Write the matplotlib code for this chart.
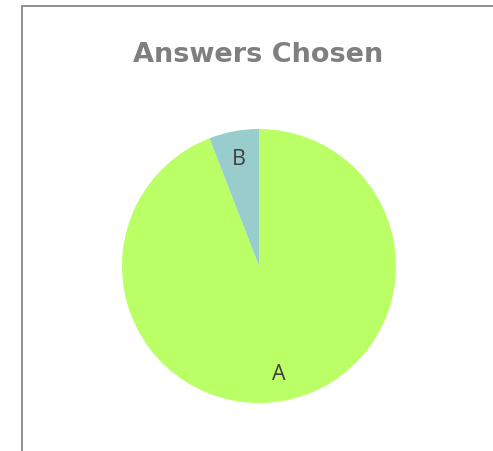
import matplotlib
matplotlib.use("Agg")
import matplotlib.pyplot as plt
from matplotlib.patches import Rectangle

# datos del grafico
respuestas = ["A", "B"]
conteos = [16, 1]
colores = ["#BBFF66", "#99CCCC"]
titulo = "Answers Chosen"

W, H = 493, 452
fig = plt.figure(figsize=(W / 100, H / 100), dpi=100)

# marco del grafico (cortado a la derecha y abajo)
fig.patches.append(Rectangle((22 / W, -0.1), 1.2, (H - 7) / H + 0.1,
                             transform=fig.transFigure, fill=False,
                             edgecolor="#868686", linewidth=1.3))

fig.text(258 / W, 1 - 62 / H, titulo, ha="center", va="baseline",
         fontsize=19.5, fontweight="bold", color="#7F7F7F", family="DejaVu Sans")

# ejes de la tarta
cx, cy, r = 259, 267, 137
ax = fig.add_axes([(cx - r) / W, (H - cy - r) / H, 2 * r / W, 2 * r / H])
ax.pie(conteos, labels=respuestas, colors=colores, startangle=90,
       counterclock=False, labeldistance=0.8, radius=1,
       textprops=dict(fontsize=15.5, color="#404040", family="Open Sans",
                      ha="center", va="center"))
ax.set_xlim(-1, 1)
ax.set_ylim(-1, 1)
ax.axis("off")

fig.savefig("out.png", dpi=100)
